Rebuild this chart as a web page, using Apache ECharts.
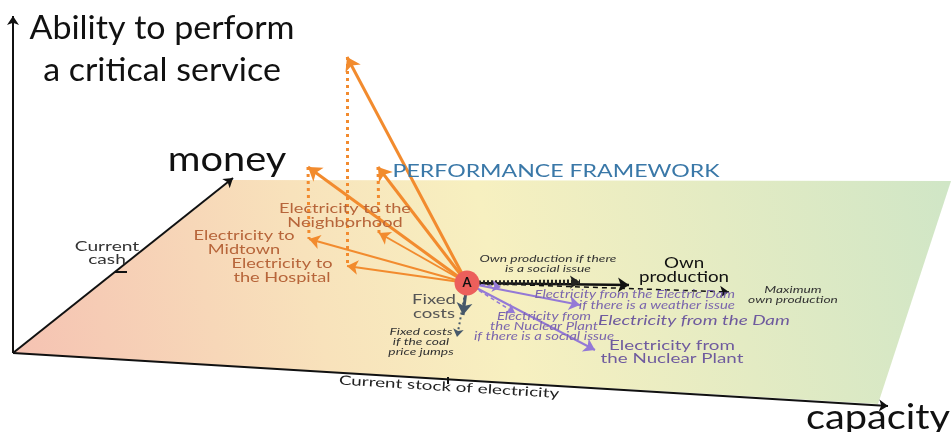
<!DOCTYPE html>
<html><head><meta charset="utf-8">
<script src="https://cdn.jsdelivr.net/npm/echarts@6/dist/echarts.min.js"></script>
<style>html,body{margin:0;padding:0;background:#fff}#c{width:951px;height:432px}</style>
</head><body><div id="c"></div>
<script>
// ---- diagram data (positions in the chart's own value space) ----
const planeCorners = [[13,353],[232,180],[951,181],[878,404]];
const axisArrows = [[[13,353],[13,16]], [[13,353],[233,178]], [[13,353],[888,406]]];
const axisTicks = [[[115,272],[127,272]], [[448,377],[448,384]]];
const pointA = [[467,283]];
const orangeUpTips = [[347,57],[308,167],[378,167]];
const orangeFlatTips = [[347,266],[309,239],[379,233]];
const ownProductionTip = [[629,285]];
const ownProductionSocialTip = [[580,282]];
const maxOwnProductionTip = [[729,292]];
const fixedCostsTip = [[463,315]];
const fixedCostsCoalTip = [[457,337]];
const damTip = [[580,305]];
const damWeatherTip = [[501,287]];
const nuclearTip = [[595,350]];
const nuclearSocialTip = [[515,313]];

const titleLabel = [[162,49,'Ability to perform\na critical service']];
const axisLabels = [[227,160,'money'],[878,418,'capacity']];
const frameworkLabel = [[556,171,'PERFORMANCE FRAMEWORK']];
const cashLabel = [[107,253,'Current\ncash']];
const stockLabel = [[449,387,'Current stock of electricity']];
const orangeLabels = [[345,216,'Electricity to the\nNeighborhood'],[244,243,'Electricity to\nMidtown'],[282,271,'Electricity to\nthe Hospital']];
const ownLabel = [[684,270,'Own\nproduction']];
const smallItalicDark = [[548,264,'Own production if there\nis a social issue'],[793,295,'Maximum\nown production'],[421,342,'Fixed costs\nif the coal\nprice jumps']];
const fixedLabel = [[434,307,'Fixed\ncosts']];
const damSmallLabel = [[735,300,'Electricity from the Electric Dam\nif there is a weather issue']];
const nuclearSmallLabel = [[544,327,'Electricity from\nthe Nuclear Plant\nif there is a social issue']];
const damLabel = [[694,320,'Electricity from the Dam']];
const nuclearLabel = [[672,352,'Electricity from\nthe Nuclear Plant']];

// ---- helpers ----
const FONT = 'Lato';
function fromA(tips){ return tips.map(t => ({coords:[pointA[0], t]})); }
function pairs(list){ return list.map(c => ({coords:c})); }
function arrows(data, color, width, type, size, z){
  return {type:'lines', coordinateSystem:'cartesian2d', silent:true, z:z||3,
    symbol:['none', size ? 'arrow' : 'none'], symbolSize:[0, size||0],
    lineStyle:{color, width, type:type||'solid', opacity:1}, data};
}
function texts(data, opts){
  return {type:'custom', coordinateSystem:'cartesian2d', silent:true, z:20,
    data: data.map(d => [d[0], d[1]]),
    renderItem:(params, api) => {
      const p = api.coord([api.value(0), api.value(1)]);
      return {type:'text', x:p[0], y:p[1], rotation:(opts.rotate||0)*Math.PI/180,
        scaleX:opts.sx||1,
        style:{text:data[params.dataIndex][2], fill:opts.color, fontSize:opts.size,
          fontFamily:FONT, fontStyle:opts.italic?'italic':'normal', fontWeight:opts.weight||'normal',
          lineHeight:opts.lh||Math.round(opts.size*1.05), align:opts.align||'center', verticalAlign:'middle'}};
    }};
}

const orange = '#f28b2e', purple = '#9479d6', slate = '#46586a';
const chart = echarts.init(document.getElementById('c'), null, {renderer:'canvas'});
chart.setOption({
  animation:false,
  backgroundColor:'#ffffff',
  grid:{left:0,right:0,top:0,bottom:0},
  xAxis:{type:'value', min:0, max:951, show:false},
  yAxis:{type:'value', min:0, max:432, inverse:true, show:false},
  series:[
    {type:'custom', coordinateSystem:'cartesian2d', silent:true, z:1, data:[[0,0]],
      renderItem:(params, api) => ({type:'polygon',
        shape:{points: planeCorners.map(c => api.coord(c))},
        style:{fill:new echarts.graphic.LinearGradient(0,1,1,0.1,[
          {offset:0,color:'#f5c1b2'},{offset:0.33,color:'#f8e2bb'},{offset:0.52,color:'#f7f0c0'},{offset:1,color:'#d0e6c6'}])}})},
    arrows(pairs(axisArrows), '#111', 2, 'solid', 9, 4),
    arrows(pairs(axisTicks), '#111', 2, 'solid', 0, 4),
    // orange
    arrows(orangeUpTips.map((t,i)=>({coords:[t, orangeFlatTips[i]]})), orange, 3, [3,4], 0, 3),
    arrows(fromA(orangeUpTips), orange, 3, 'solid', 13, 3),
    arrows(fromA(orangeFlatTips), orange, 2, 'solid', 11, 3),
    // own production
    arrows(fromA(maxOwnProductionTip), '#111', 1.5, [5,4], 9, 3),
    arrows(fromA(ownProductionTip), '#111', 2.5, 'solid', 11, 3),
    arrows(fromA(ownProductionSocialTip), '#222', 5, [2,2], 10, 3),
    // fixed costs
    arrows(fromA(fixedCostsCoalTip), slate, 2, [2,3], 8, 3),
    arrows(fromA(fixedCostsTip), slate, 3, 'solid', 12, 3),
    // purple
    arrows(fromA(damWeatherTip), purple, 1.5, [4,3], 9, 3),
    arrows(fromA(nuclearSocialTip), purple, 1.5, [4,3], 9, 3),
    arrows(fromA(damTip), purple, 2, 'solid', 11, 3),
    arrows(fromA(nuclearTip), purple, 2, 'solid', 11, 3),
    // point A
    {type:'scatter', silent:true, z:8, symbolSize:25, data:pointA,
      itemStyle:{color:'#ec5f5b', opacity:1},
      label:{show:true, position:'inside', formatter:'A', color:'#111', fontSize:13, fontWeight:'bold', fontFamily:FONT}},
    // texts
    texts(titleLabel, {color:'#111', size:33, lh:42, sx:1.03}),
    texts(axisLabels, {color:'#111', size:34, sx:1.17}),
    texts(frameworkLabel, {color:'#3a78a8', size:17.5, sx:1.32}),
    texts(cashLabel, {color:'#333', size:13.5, lh:13, sx:1.42}),
    texts(stockLabel, {color:'#222', size:13, rotate:-3.5, sx:1.45}),
    texts(orangeLabels, {color:'#b7653a', size:13, lh:13.5, sx:1.4}),
    texts(ownLabel, {color:'#111', size:15, lh:14, sx:1.25}),
    texts(smallItalicDark, {color:'#333', size:10, italic:true, lh:10, sx:1.38}),
    texts(fixedLabel, {color:'#555', size:13.5, lh:14, sx:1.38}),
    texts(damSmallLabel, {color:'#7b66ad', size:10.5, italic:true, lh:11, sx:1.42, align:'right'}),
    texts(nuclearSmallLabel, {color:'#7b66ad', size:10.5, italic:true, lh:10, sx:1.42}),
    texts(damLabel, {color:'#6f5b9e', size:14, italic:true, sx:1.35}),
    texts(nuclearLabel, {color:'#6f5b9e', size:14, lh:13, sx:1.34})
  ]
});
</script></body></html>
